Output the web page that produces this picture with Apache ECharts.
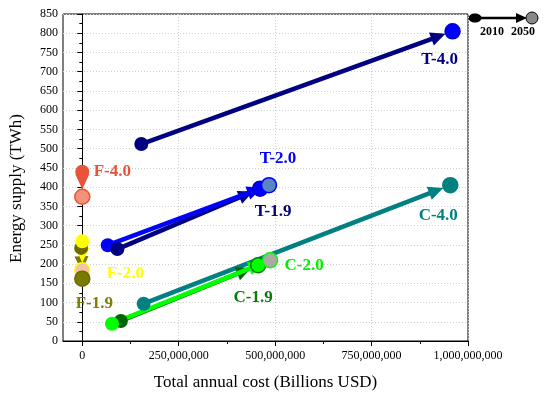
<!DOCTYPE html>
<html><head><meta charset="utf-8">
<script src="https://cdn.jsdelivr.net/npm/echarts@6/dist/echarts.min.js"></script>
<style>html,body{margin:0;padding:0;background:#fff}#c{width:550px;height:399px}</style>
</head><body><div id="c"></div>
<script>
// ---- data ----
const scenarios  = ['T-2.0', 'T-1.9', 'T-4.0', 'F-4.0', 'F-2.0', 'F-1.9', 'C-4.0', 'C-2.0', 'C-1.9'];
const cost2010   = [66e6, 91e6, 153e6, 0, 0, -3e6, 159e6, 77e6, 100e6];
const supply2010 = [249, 239, 512, 440, 259, 242, 97, 45, 52];
const cost2050   = [484e6, 461e6, 960e6, 0, 0, 0, 954e6, 487e6, 456e6];
const supply2050 = [405, 396, 805, 375, 184, 162, 405, 210, 197];
const xTicks      = [0, 250e6, 500e6, 750e6, 1000e6];
const xMinorTicks = [125e6, 375e6, 625e6, 875e6];
const legendYears = ['2010', '2050'];

// ---- styles ----
const lineColor  = ['#0000ff', '#000080', '#000080', '#e8533a', '#ffff00', '#7a7a00', '#008080', '#00ff00', '#006400'];
const startColor = ['#0000ff', '#000080', '#000080', '#e8533a', '#ffff00', '#6b6b00', '#008080', '#00ff00', '#006400'];
const endFill    = ['#5a86c0', '#0000ff', '#0000ff', '#f4937a', '#f5c4a4', '#7a7a00', '#008080', '#aaaaa2', '#00ff00'];
const endBorder  = ['#0000ff', '#0000cc', '#0000cc', '#e8533a', '#ffff00', '#6b6b00', '#008080', '#00ff00', '#008000'];
const labelColor = ['#0000ff', '#000080', '#000080', '#e8533a', '#ffff00', '#808000', '#008080', '#00ee00', '#0a7a0a'];
const labelOff   = [[9, -27], [13, 23], [-13, 28], [30, -25], [43, 3], [12, 25], [-12, 30], [34, 5], [-5, 32]];
// drawing order (later = on top)
const arrowOrder = ['T-1.9', 'T-2.0', 'T-4.0', 'F-4.0', 'F-1.9', 'F-2.0', 'C-4.0', 'C-1.9', 'C-2.0'];
const startOrder = ['T-2.0', 'T-1.9', 'T-4.0', 'F-4.0', 'F-1.9', 'F-2.0', 'C-4.0', 'C-1.9', 'C-2.0'];
const endOrder   = ['T-1.9', 'T-2.0', 'T-4.0', 'F-4.0', 'F-2.0', 'F-1.9', 'C-4.0', 'C-1.9', 'C-2.0'];

const serif = '"Liberation Serif", "Times New Roman", serif';
const chart = echarts.init(document.getElementById('c'), null, {renderer: 'canvas'});
const idx = name => scenarios.indexOf(name);

const arrowData = arrowOrder.map(idx).map(i => ({
  value: [cost2010[i], supply2010[i], cost2050[i], supply2050[i]],
  itemStyle: {color: lineColor[i]}
}));

function renderArrow(params, api) {
  const p0 = api.coord([api.value(0), api.value(1)]);
  const p1 = api.coord([api.value(2), api.value(3)]);
  const dx = p1[0] - p0[0], dy = p1[1] - p0[1];
  const len = Math.sqrt(dx * dx + dy * dy) || 1;
  const ux = dx / len, uy = dy / len;
  const r = 7.5, headL = 15, headW = 7;
  const tip = [p1[0] - ux * r, p1[1] - uy * r];
  const base = [tip[0] - ux * headL, tip[1] - uy * headL];
  const nx = -uy, ny = ux;
  const color = api.style().fill;
  return {
    type: 'group',
    children: [
      {type: 'line', shape: {x1: p0[0], y1: p0[1], x2: base[0] + ux * 2, y2: base[1] + uy * 2},
       style: {stroke: color, lineWidth: 4.5}},
      {type: 'polygon', shape: {points: [tip, [base[0] + nx * headW, base[1] + ny * headW], [base[0] - nx * headW, base[1] - ny * headW]]},
       style: {fill: color}}
    ]
  };
}

const option = {
  animation: false,
  backgroundColor: '#fff',
  grid: {left: 62, right: 82, top: 14, bottom: 58, show: true, borderColor: '#000', borderWidth: 1, backgroundColor: 'transparent'},
  xAxis: [{
    type: 'value', min: -50e6, max: 1000e6,
    name: 'Total annual cost (Billions USD)', nameLocation: 'middle', nameGap: 33,
    nameTextStyle: {fontFamily: serif, fontSize: 17, color: '#000'},
    axisLine: {show: true, lineStyle: {color: '#000', width: 1}},
    axisTick: {show: true, length: 5, customValues: xTicks, lineStyle: {color: '#000'}},
    axisLabel: {customValues: xTicks, fontFamily: serif, fontSize: 12, color: '#000', margin: 9,
      formatter: v => Math.round(v).toLocaleString('en-US')},
    splitLine: {show: true, lineStyle: {color: '#d0d0d0', type: [1, 2], width: 1}}
  }, {
    type: 'value', min: -50e6, max: 1000e6, position: 'bottom',
    axisLine: {show: false},
    axisTick: {show: true, length: 3, customValues: xMinorTicks, lineStyle: {color: '#000'}},
    axisLabel: {show: false},
    splitLine: {show: false}
  }],
  yAxis: {
    type: 'value', min: 0, max: 850, interval: 50,
    name: 'Energy supply (TWh)', nameLocation: 'middle', nameGap: 38,
    nameTextStyle: {fontFamily: serif, fontSize: 17, color: '#000', padding: [0, 22, 0, 0]},
    axisLine: {show: true, lineStyle: {color: '#000', width: 1}},
    axisTick: {show: true, length: 5, lineStyle: {color: '#000'}},
    minorTick: {show: true, splitNumber: 2, length: 3, lineStyle: {color: '#000'}},
    axisLabel: {fontFamily: serif, fontSize: 12, color: '#000', margin: 5},
    splitLine: {show: true, lineStyle: {color: '#d0d0d0', type: [1, 2], width: 1}}
  },
  series: [
    {
      type: 'custom', name: 'arrows', xAxisIndex: 0, yAxisIndex: 0,
      renderItem: renderArrow,
      encode: {x: [0, 2], y: [1, 3]},
      data: arrowData, z: 2, silent: true
    },
    {
      type: 'scatter', name: '2010', symbol: 'circle', symbolSize: 14, z: 3, silent: true,
      itemStyle: {opacity: 1},
      data: startOrder.map(idx).map(i => ({value: [cost2010[i], supply2010[i]], itemStyle: {color: startColor[i], opacity: 1}}))
    },
    {
      type: 'scatter', name: '2050', symbol: 'circle', symbolSize: 15, z: 4, silent: true,
      itemStyle: {opacity: 1},
      data: endOrder.map(idx).map(i => ({
        value: [cost2050[i], supply2050[i]],
        itemStyle: {color: endFill[i], borderColor: endBorder[i], borderWidth: 1.5, opacity: 1},
        label: {show: true, position: 'inside', offset: labelOff[i], formatter: scenarios[i],
          color: labelColor[i], fontFamily: serif, fontWeight: 'bold', fontSize: 17}
      }))
    }
  ],
  graphic: [
    {type: 'line', shape: {x1: 476, y1: 18, x2: 520, y2: 18}, style: {stroke: '#000', lineWidth: 2.5}},
    {type: 'ellipse', shape: {cx: 475, cy: 18, rx: 6.5, ry: 4.5}, style: {fill: '#000'}},
    {type: 'polygon', shape: {points: [[516, 13], [527, 18], [516, 23]]}, style: {fill: '#000'}},
    {type: 'circle', shape: {cx: 532, cy: 18, r: 6}, style: {fill: '#888', stroke: '#000', lineWidth: 1}},
    {type: 'text', x: 492, y: 32, style: {text: legendYears[0], font: 'bold 12px ' + serif, fill: '#000', align: 'center', verticalAlign: 'middle'}},
    {type: 'text', x: 523, y: 32, style: {text: legendYears[1], font: 'bold 12px ' + serif, fill: '#000', align: 'center', verticalAlign: 'middle'}}
  ]
};
chart.setOption(option);
</script>
</body></html>
